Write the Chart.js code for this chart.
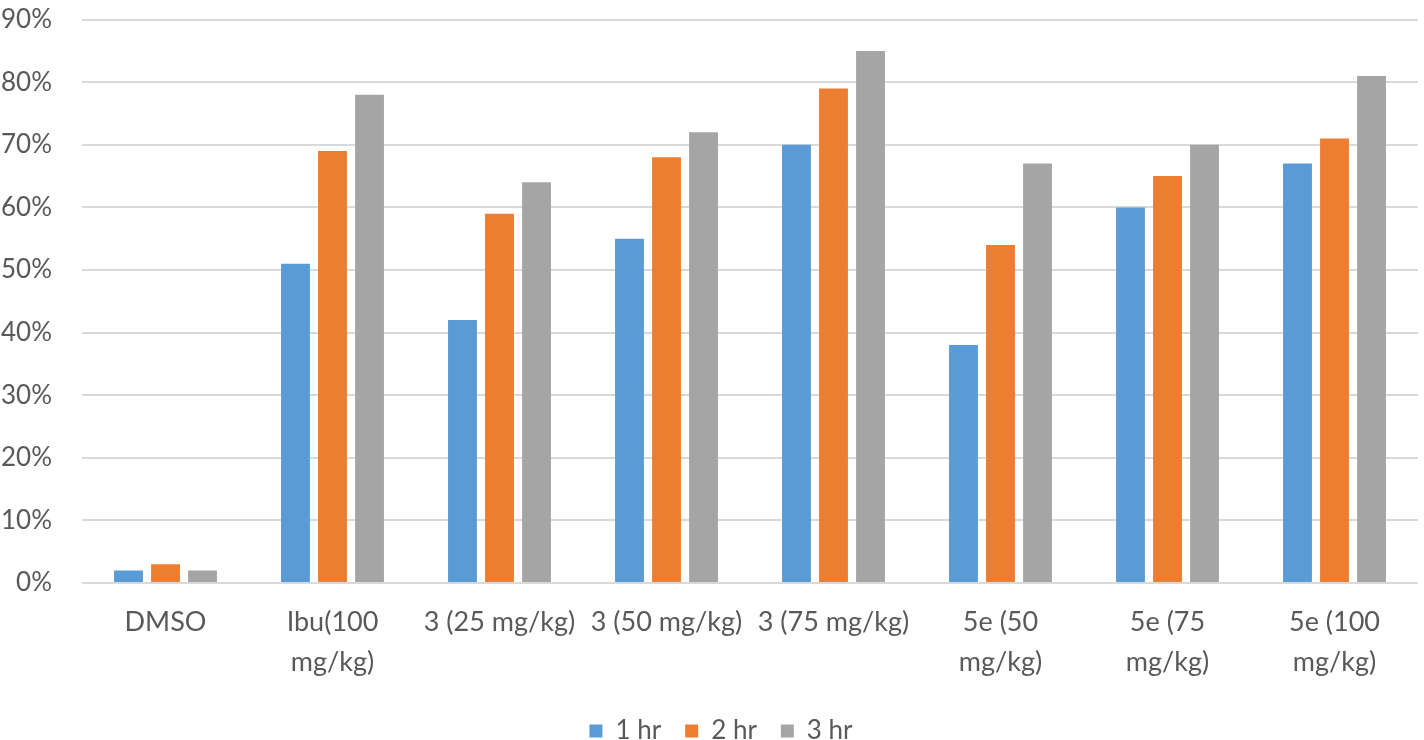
<!DOCTYPE html>
<html>
<head>
<meta charset="utf-8">
<script src="https://cdn.jsdelivr.net/npm/chart.js@4"></script>
<style>
    html, body { margin: 0; padding: 0; background: #ffffff; }
    #wrap { width: 1424px; height: 740px; }
</style>
</head>
<body>
<div id="wrap"><canvas id="chart" width="1424" height="740"></canvas></div>
<script>
// categories (multi-line labels as arrays)
const categories = [
    'DMSO',
    ['Ibu(100', 'mg/kg)'],
    '3 (25 mg/kg)',
    '3 (50 mg/kg)',
    '3 (75 mg/kg)',
    ['5e (50', 'mg/kg)'],
    ['5e (75', 'mg/kg)'],
    ['5e (100', 'mg/kg)']
];

// series values, in percent
const hr1 = [2, 51, 42, 55, 70, 38, 60, 67];
const hr2 = [3, 69, 59, 68, 79, 54, 65, 71];
const hr3 = [2, 78, 64, 72, 85, 67, 70, 81];

const seriesNames = ['1 hr', '2 hr', '3 hr'];
const seriesColors = ['#5B9BD5', '#ED7D31', '#A5A5A5'];

// y axis ticks
const yMin = 0;
const yMax = 90;
const yStep = 10;

const textColor = '#595959';
const fontFamily = 'Lato, "Open Sans", sans-serif';

// legend sits a little right of centre in the original
const legendShift = {
    id: 'legendShift',
    afterLayout: chart => {
        chart.legend.left += 12;
        chart.legend.right += 12;
    }
};

const ctx = document.getElementById('chart').getContext('2d');

new Chart(ctx, {
    type: 'bar',
    data: {
        labels: categories,
        datasets: [hr1, hr2, hr3].map((values, i) => ({
            label: seriesNames[i],
            data: values,
            backgroundColor: seriesColors[i],
            borderWidth: 0,
            categoryPercentage: 0.665,
            barPercentage: 0.78
        }))
    },
    options: {
        responsive: false,
        animation: false,
        layout: {
            padding: { top: 0, right: 6, left: 0, bottom: -14 }
        },
        scales: {
            x: {
                grid: { display: false },
                border: { display: false },
                ticks: {
                    color: textColor,
                    font: { family: fontFamily, size: 27, lineHeight: 1.5 },
                    padding: 11,
                    maxRotation: 0,
                    autoSkip: false
                }
            },
            y: {
                min: yMin,
                max: yMax,
                border: { display: false },
                grid: {
                    color: '#D9D9D9',
                    lineWidth: 2,
                    drawTicks: true,
                    tickLength: 26,
                    tickColor: 'rgba(0,0,0,0)'
                },
                ticks: {
                    stepSize: yStep,
                    color: textColor,
                    font: { family: fontFamily, size: 26 },
                    padding: 4,
                    callback: value => value + '%'
                },
                afterFit: scale => {
                    scale.width = 82;
                }
            }
        },
        plugins: {
            legend: {
                position: 'bottom',
                labels: {
                    color: textColor,
                    font: { family: fontFamily, size: 26 },
                    boxWidth: 13,
                    boxHeight: 13,
                    padding: 24
                }
            },
            tooltip: { enabled: false }
        }
    },
    plugins: [legendShift]
});
</script>
</body>
</html>
